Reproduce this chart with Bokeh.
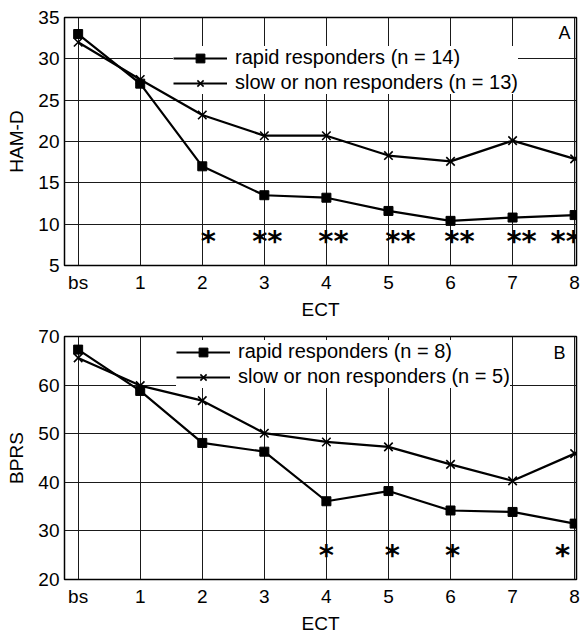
from bokeh.plotting import figure
from bokeh.layouts import column
from bokeh.models import (Range1d, FixedTicker, Legend, LegendItem, Label,
                          ColumnDataSource)
from bokeh.embed import file_html
from bokeh.resources import INLINE

sessions = [0, 1, 2, 3, 4, 5, 6, 7, 8]
session_labels = ["bs", "1", "2", "3", "4", "5", "6", "7", "8"]

# Panel A: HAM-D
hamd_rapid = [33.0, 27.0, 17.0, 13.5, 13.2, 11.6, 10.4, 10.8, 11.1]
hamd_slow = [32.0, 27.5, 23.2, 20.7, 20.7, 18.3, 17.6, 20.1, 17.9]
hamd_ticks = [5, 10, 15, 20, 25, 30, 35]
hamd_sig_x = [2, 3, 4, 5, 6, 7, 8]
hamd_sig = ["*", "**", "**", "**", "**", "**", "**"]
hamd_sig_dx = [6, 3, 7, 12, 9, 9, -9]
hamd_sig_y = 8.6

# Panel B: BPRS
bprs_rapid = [67.3, 58.8, 48.1, 46.3, 36.1, 38.2, 34.2, 33.9, 31.5]
bprs_slow = [65.6, 59.9, 56.8, 50.1, 48.3, 47.3, 43.7, 40.3, 45.9]
bprs_ticks = [20, 30, 40, 50, 60, 70]
bprs_sig_x = [4, 5, 6, 8]
bprs_sig = ["*", "*", "*", "*"]
bprs_sig_dx = [0, 4, 2, -12]
bprs_sig_y = 26.0

FONT = "Liberation Sans"


def panel(rapid, slow, ticks, ylab, n_rapid, n_slow, tag, sig_x, sig, sig_y,
          sig_dx, top, bottom, height, legend_loc, tag_dx, tag_dy):
    p = figure(width=581, height=height,
               x_range=Range1d(-0.22, 8.03),
               y_range=Range1d(ticks[0], ticks[-1]),
               output_backend="svg", toolbar_location=None,
               min_border_left=64, min_border_right=5,
               min_border_top=top, min_border_bottom=bottom)
    p.outline_line_color = "black"
    p.outline_line_width = 1.5
    p.background_fill_color = "white"
    p.border_fill_color = "white"

    p.xaxis.ticker = FixedTicker(ticks=sessions)
    p.xaxis.major_label_overrides = {s: l for s, l in zip(sessions, session_labels)}
    p.yaxis.ticker = FixedTicker(ticks=ticks)
    for ax in (p.xaxis, p.yaxis):
        ax.axis_line_color = None
        ax.major_tick_out = 0
        ax.major_tick_in = 0
        ax.minor_tick_line_color = None
        ax.major_label_text_font = FONT
        ax.major_label_text_font_size = "19px"
        ax.major_label_text_color = "black"
        ax.axis_label_text_font = FONT
        ax.axis_label_text_font_size = "19px"
        ax.axis_label_text_font_style = "normal"
        ax.axis_label_text_color = "black"
    p.xaxis.major_label_standoff = 6
    p.xaxis.axis_label_standoff = 3
    p.yaxis.major_label_standoff = 5
    p.yaxis.axis_label_standoff = 8
    p.xaxis.axis_label = "ECT"
    p.yaxis.axis_label = ylab

    p.xgrid.ticker = FixedTicker(ticks=sessions)
    p.ygrid.ticker = FixedTicker(ticks=ticks)
    for g in (p.xgrid, p.ygrid):
        g.grid_line_color = "#1a1a1a"
        g.grid_line_width = 1

    r1 = p.line(sessions, rapid, line_color="black", line_width=2.2)
    s1 = p.scatter(sessions, rapid, marker="square", size=9,
                   fill_color="black", line_color="black")
    r2 = p.line(sessions, slow, line_color="black", line_width=2.2)
    s2 = p.scatter(sessions, slow, marker="x", size=12,
                   line_color="black", line_width=1.6)

    src = ColumnDataSource(dict(x=sig_x, y=[sig_y] * len(sig_x), t=sig,
                                dx=sig_dx))
    p.text(x="x", y="y", text="t", x_offset="dx", y_offset=5, source=src,
           text_font={"value": "DejaVu Sans"}, text_font_size="29px",
           text_font_style="bold",
           text_align="center", text_baseline="middle", text_color="black")

    legend = Legend(items=[
        LegendItem(label=f"rapid responders (n = {n_rapid})", renderers=[r1, s1]),
        LegendItem(label=f"slow or non responders (n = {n_slow})", renderers=[r2, s2]),
    ], location=legend_loc)
    legend.label_text_font = FONT
    legend.label_text_font_size = "20px"
    legend.label_text_color = "black"
    legend.glyph_width = 54
    legend.glyph_height = 22
    legend.label_height = 22
    legend.label_standoff = 8
    legend.spacing = 2
    legend.padding = 2
    legend.margin = 0
    legend.border_line_color = None
    legend.background_fill_color = "white"
    legend.background_fill_alpha = 1.0
    p.add_layout(legend)

    p.add_layout(Label(x=8.03, y=ticks[-1], text=tag, x_units="data",
                       y_units="data", x_offset=tag_dx, y_offset=tag_dy,
                       text_align="right", text_baseline="top",
                       text_font=FONT, text_font_size="18px",
                       text_color="black"))
    return p


pa = panel(hamd_rapid, hamd_slow, hamd_ticks, "HAM-D", 14, 13, "A",
           hamd_sig_x, hamd_sig, hamd_sig_y, hamd_sig_dx,
           17, 60, 325, (109, 171), -6, -5)
pb = panel(bprs_rapid, bprs_slow, bprs_ticks, "BPRS", 8, 5, "B",
           bprs_sig_x, bprs_sig, bprs_sig_y, bprs_sig_dx,
           11, 53, 311, (112, 191), -11, -6)

layout = column(pa, pb, spacing=0)
open("out.html", "w").write(file_html(layout, INLINE))
